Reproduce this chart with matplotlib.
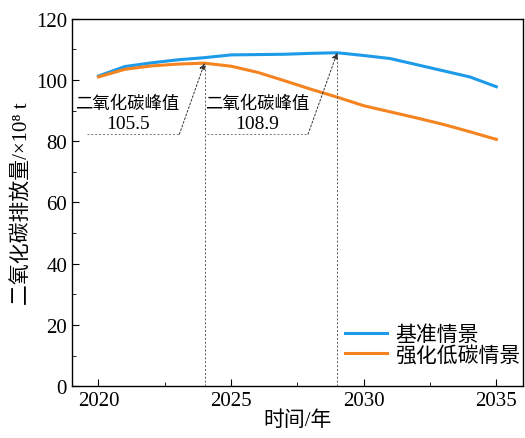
import numpy as np
import matplotlib.pyplot as plt
from matplotlib.ticker import MultipleLocator

plt.rcParams['font.family'] = ['Liberation Serif', 'Noto Sans CJK SC']

# 数据
years = np.arange(2020, 2036)
base = [101.3, 104.4, 105.6, 106.6, 107.3, 108.2, 108.3, 108.4, 108.7, 108.9,
        108.0, 107.0, 105.0, 103.0, 101.0, 97.8]
low = [101.0, 103.5, 104.6, 105.2, 105.5, 104.5, 102.5, 99.8, 97.0, 94.4,
       91.6, 89.6, 87.6, 85.5, 83.1, 80.6]
labels = ['基准情景', '强化低碳情景']
peak_year = [2024, 2029]
peak_val = [105.5, 108.9]

fig, ax = plt.subplots(figsize=(5.25, 4.39), dpi=100)
fig.subplots_adjust(left=0.137, right=0.996, bottom=0.118, top=0.955)

ax.plot(years, base, color='#1E9BE8', lw=2.2, label=labels[0])
ax.plot(years, low, color='#F5831F', lw=2.2, label=labels[1])

# 峰值标注
text_x = [2021.1, 2026.0]
line_x = [(2019.55, 2023.05), (2024.1, 2027.9)]
for i in range(2):
    ax.plot([peak_year[i], peak_year[i]], [0, peak_val[i]], color='#555555',
            lw=0.7, ls=(0, (2, 2)))
    ax.plot(line_x[i], [82.3, 82.3], color='#777777', lw=0.7, ls=(0, (2, 2)))
    ax.annotate('', xy=(peak_year[i], peak_val[i]), xytext=(line_x[i][1], 82.3),
                arrowprops=dict(arrowstyle='-|>', color='#333333', lw=0.7,
                                ls=(0, (2, 2)), mutation_scale=9,
                                shrinkA=0, shrinkB=0))
    ax.text(text_x[i], 92.3, '二氧化碳峰值', ha='center', va='center', fontsize=12.5)
    ax.text(text_x[i], 85.8, '%.1f' % peak_val[i], ha='center', va='center', fontsize=14)

ax.set_xlim(2019, 2036)
ax.set_ylim(0, 120)
ax.xaxis.set_major_locator(MultipleLocator(5))
ax.xaxis.set_minor_locator(MultipleLocator(2.5))
ax.yaxis.set_major_locator(MultipleLocator(20))
ax.yaxis.set_minor_locator(MultipleLocator(10))
ax.tick_params(which='both', direction='in', labelsize=15)
ax.tick_params(which='major', length=5)
ax.tick_params(which='minor', length=3)
for s in ax.spines.values():
    s.set_linewidth(1.0)

ax.set_xlabel('时间/年', fontsize=15, labelpad=0)
ax.set_ylabel('二氧化碳排放量/×10⁸ t', fontsize=15, labelpad=2)

ax.legend(loc='lower right', bbox_to_anchor=(1.04, 0.0), frameon=False,
          fontsize=15, handlelength=2.0, borderaxespad=0.6, labelspacing=0.0,
          handletextpad=0.4)

plt.savefig('out.png')
